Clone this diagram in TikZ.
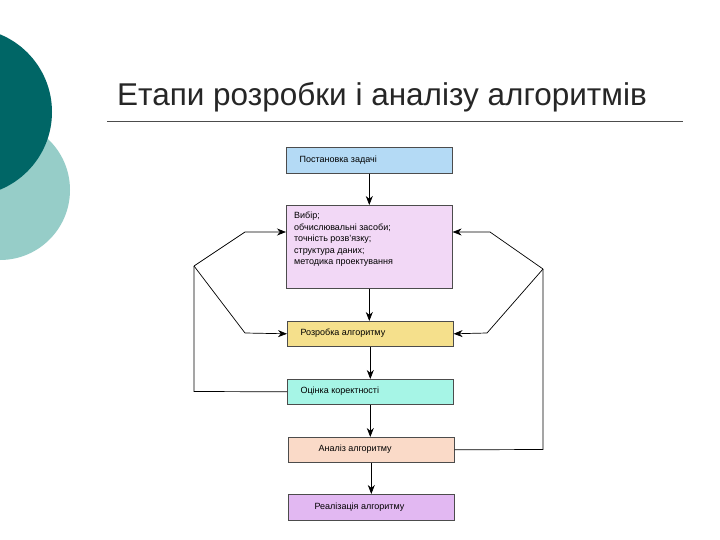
\documentclass[tikz,border=0pt]{standalone}
\usepackage{fontspec}
\setmainfont{Liberation Sans}
\usetikzlibrary{arrows.meta}
\begin{document}
\begin{tikzpicture}[x=1pt,y=-1pt,
  box/.style={draw=black!70,line width=0.6pt,minimum width=166pt,anchor=north west,inner sep=0pt},
  lab/.style={anchor=west,font=\fontsize{9}{10}\selectfont},
  arr/.style={-{Stealth[length=9pt,width=7pt]},line width=0.7pt},
  ln/.style={line width=0.7pt}]
\useasboundingbox (0,0) rectangle (720,540);
\fill[white] (0,0) rectangle (720,540);
\begin{scope}
\clip (0,0) rectangle (720,540);
\fill[color={rgb,255:red,150;green,205;blue,200}] (0,190) circle (70);
\fill[color={rgb,255:red,0;green,102;blue,102}] (-32,112) circle (84);
\end{scope}
\node[anchor=base west,inner sep=0pt,font=\fontsize{31.5}{36}\selectfont,text=black!85] (title) at (117,106) {Етапи розробки і аналізу алгоритмів};
\draw[line width=0.7pt,black!70] (107,121) coordinate (l1) -- (683,121) coordinate (l2);
\node[box,fill={rgb,255:red,180;green,218;blue,245},minimum height=26pt] (a) at (286,147) {};
\node[lab] at (296,160) {Постановка задачі};
\node[box,fill={rgb,255:red,242;green,216;blue,246},minimum height=83pt] (b) at (286,205) {};
\node[anchor=north west,align=left,inner sep=0pt,font=\fontsize{9}{11.5}\selectfont] at (294,212) {Вибір;\\обчислювальні засоби;\\точність розв'язку;\\структура даних;\\методика проектування};
\node[box,fill={rgb,255:red,245;green,224;blue,140},minimum height=25pt] (c) at (287,321) {};
\node[lab] at (297,333) {Розробка алгоритму};
\node[box,fill={rgb,255:red,166;green,245;blue,230},minimum height=25pt] (d) at (287,379) {};
\node[lab] at (297,391) {Оцінка коректності};
\node[box,fill={rgb,255:red,250;green,218;blue,200},minimum height=25pt] (e) at (288,437) {};
\node[lab] at (315,449) {Аналіз алгоритму};
\node[box,fill={rgb,255:red,226;green,184;blue,242},minimum height=26pt] (f) at (288,494) {};
\node[lab] at (311,507) {Реалізація алгоритму};
\draw[arr] (a.south) -- (a.south|-b.north);
\draw[arr] (b.south) -- (b.south|-c.north);
\draw[arr] (c.south) -- (c.south|-d.north);
\draw[arr] (d.south) -- (d.south|-e.north);
\draw[arr] (e.south) -- (e.south|-f.north);
\coordinate (lj) at (194,266);
\coordinate (rj) at (543,269);
\draw[ln] (d.west) -- (194,391.5) -- (lj);
\draw[arr] (lj) -- (245,232) -- (b.west|-0,232);
\draw[arr] (lj) -- (245,333) -- (c.west);
\draw[ln] (e.east) -- (543,449.5) -- (rj);
\draw[arr] (rj) -- (490,232) -- (b.east|-0,232);
\draw[arr] (rj) -- (487,333) -- (c.east);
\end{tikzpicture}
\end{document}
